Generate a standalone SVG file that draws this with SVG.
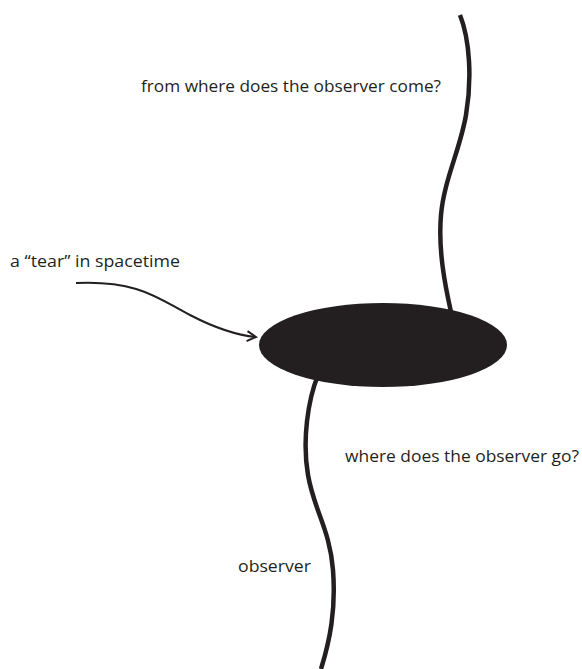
<svg xmlns="http://www.w3.org/2000/svg" width="582" height="669" viewBox="0 0 582 669">
<defs>
<style>
.lbl{font-family:"Open Sans","Noto Sans","Liberation Sans",sans-serif;font-size:17px;fill:#231f20}
.world{fill:none;stroke:#231f20;stroke-width:4.5;stroke-linecap:butt}
.conn{fill:none;stroke:#231f20;stroke-width:2}
</style>
<marker id="ah" viewBox="0 0 12 12" refX="10" refY="6" markerWidth="12" markerHeight="12" markerUnits="userSpaceOnUse" orient="auto">
<path d="M1,1 L10,6 L1,11" fill="none" stroke="#231f20" stroke-width="2"/>
</marker>
</defs>
<rect width="582" height="669" fill="#fff"/>
<g id="connectors">
<path id="worldline-upper" class="world" d="M460,15 C470,40 472,80 466,115 C460,150 444,180 441,215 C438,250 445,285 451,312"/>
<path id="worldline-lower" class="world" d="M318,375 C308,400 302,440 308,475 C314,510 330,530 333,570 C336,610 330,640 321,669"/>
<path id="arrow-tear" class="conn" marker-end="url(#ah)" d="M76,283 C140,280 160,300 190,315 C215,328 235,335 256,337"/>
</g>
<g id="tear">
<ellipse cx="383" cy="345" rx="124" ry="42" fill="#231f20"/>
</g>
<g id="label-come"><text class="lbl" x="141" y="92" textLength="300" lengthAdjust="spacingAndGlyphs">from where does the observer come?</text></g>
<g id="label-tear"><text class="lbl" x="10" y="267" textLength="170" lengthAdjust="spacingAndGlyphs">a “tear” in spacetime</text></g>
<g id="label-go"><text class="lbl" x="345" y="462" textLength="234" lengthAdjust="spacingAndGlyphs">where does the observer go?</text></g>
<g id="label-observer"><text class="lbl" x="238" y="572" textLength="73" lengthAdjust="spacingAndGlyphs">observer</text></g>
</svg>
